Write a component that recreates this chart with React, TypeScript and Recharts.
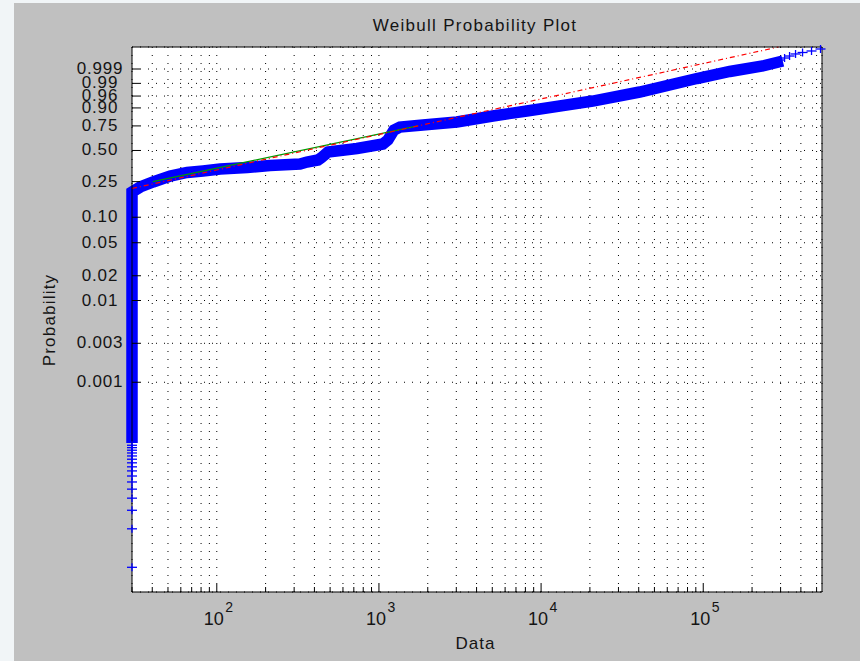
import React from "react";
import { ComposedChart, Line, Scatter, XAxis, YAxis, CartesianGrid } from "recharts";

// Weibull probability plot: x = data (log axis), y = probability on weibull paper

// main dense band of '+' markers (centre line)
const bandX = [30, 30, 33.7, 40.5, 51.6, 65.6, 82.3, 105, 154, 213, 326, 360, 421, 439, 485, 732, 1058, 1136, 1237, 1347, 1867, 3024, 5040, 8166, 13040, 20820, 40560, 91300, 145800, 232900, 309400];
const bandP = [0.00018, 0.193, 0.219, 0.248, 0.286, 0.311, 0.322, 0.337, 0.349, 0.365, 0.377, 0.394, 0.411, 0.429, 0.485, 0.52, 0.565, 0.606, 0.709, 0.739, 0.759, 0.787, 0.84, 0.879, 0.912, 0.939, 0.9729, 0.99492, 0.9984, 0.99946, 0.999826];

// separate markers at the lowest probabilities (all at the data minimum)
const X_MIN = 30;
const lowP = [5.4e-6, 1.6e-5, 2.7e-5, 3.8e-5, 4.9e-5, 6.0e-5, 7.1e-5, 8.2e-5, 9.2e-5, 1.03e-4, 1.14e-4, 1.25e-4, 1.36e-4, 1.47e-4, 1.58e-4, 1.69e-4];

// separate markers at the top right
const topX = [279700, 296000, 317400, 340700, 370900, 409700, 465400, 528800];
const topP = [0.999779, 0.999864, 0.999919, 0.999953, 0.999974, 0.9999834, 0.9999897, 0.9999947];

// reference lines
const redX = [30, 291400];
const redP = [0.2111, 0.99999738];
const greenX = [40.3, 1734];
const greenP = [0.25, 0.75];

// axes
const X_DOMAIN = [30, 540000];
const X_TICKS = [30, 40, 50, 60, 70, 80, 90, 100, 200, 300, 400, 500, 600, 700, 800, 900, 1000, 2000, 3000, 4000, 5000, 6000, 7000, 8000, 9000, 10000, 20000, 30000, 40000, 50000, 60000, 70000, 80000, 90000, 100000, 200000, 300000, 400000, 500000];
const Y_TICK_P = [0.001, 0.003, 0.01, 0.02, 0.05, 0.1, 0.25, 0.5, 0.75, 0.9, 0.96, 0.99, 0.999];
const Y_LABELS = ["0.001", "0.003", "0.01", "0.02", "0.05", "0.10", "0.25", "0.50", "0.75", "0.90", "0.96", "0.99", "0.999"];
const Y_LIMIT_P = [2.69e-6, 1 - 2.64e-6];

const wb = (p: number) => Math.log(-Math.log(1 - p));

const band = bandX.map((x, i) => ({ x, y: wb(bandP[i]) }));
const lowMarks = lowP.map((p) => ({ x: X_MIN, y: wb(p) }));
const topMarks = topX.map((x, i) => ({ x, y: wb(topP[i]) }));
const red = redX.map((x, i) => ({ x, y: wb(redP[i]) }));
const green = greenX.map((x, i) => ({ x, y: wb(greenP[i]) }));
const Y_TICKS = Y_TICK_P.map(wb);
const Y_DOMAIN = Y_LIMIT_P.map(wb);

const FONT = "'Liberation Sans', Arial, Helvetica, sans-serif";
const INK = "#141414";

function isMajor(v: number) {
  const lg = Math.log10(v);
  return Math.abs(lg - Math.round(lg)) < 1e-6;
}

function BottomTick(props: any) {
  const { x, y, payload } = props;
  const major = isMajor(payload.value);
  return (
    <g>
      <line x1={x} x2={x} y1={y} y2={y - (major ? 8 : 5)} stroke="#000" />
      {major && (
        <g fontFamily={FONT} fill={INK} stroke="none">
          <text x={x + 7} y={y + 33} fontSize={18} textAnchor="end">10</text>
          <text x={x + 8.5} y={y + 20} fontSize={14}>{Math.round(Math.log10(payload.value))}</text>
        </g>
      )}
    </g>
  );
}

function TopTick(props: any) {
  const { x, y, payload } = props;
  const major = isMajor(payload.value);
  return <line x1={x} x2={x} y1={y} y2={y + (major ? 8 : 5)} stroke="#000" />;
}

function LeftTick(props: any) {
  const { x, y, payload, index } = props;
  let i = Y_TICKS.indexOf(payload.value);
  if (i < 0) i = index;
  return (
    <g>
      <line x1={x} x2={x + 8} y1={y} y2={y} stroke="#000" />
      <text x={x - 32} y={y + 5} textAnchor="middle" fontFamily={FONT} fontSize={17} letterSpacing={0.8} fill={INK} stroke="none">
        {Y_LABELS[i]}
      </text>
    </g>
  );
}

function RightTick(props: any) {
  const { x, y } = props;
  return <line x1={x} x2={x - 8} y1={y} y2={y} stroke="#000" />;
}

function Plus(props: any) {
  const { cx, cy } = props;
  if (cx == null || cy == null) return null;
  return (
    <g stroke="#0000ff" strokeWidth={1.3}>
      <line x1={cx - 5} x2={cx + 5} y1={cy} y2={cy} />
      <line x1={cx} x2={cx} y1={cy - 4} y2={cy + 4} />
    </g>
  );
}

export default function App() {
  return (
    <div style={{ position: "absolute", left: 0, top: 0, width: 860, height: 661, background: "#f1f5f7", overflow: "hidden" }}>
      <div style={{ position: "absolute", left: 14, top: 3, width: 846, height: 658, background: "#c0c0c0" }}>
        <ComposedChart width={846} height={658} margin={{ top: 43, right: 37, bottom: 68, left: 117 }}>
          <CartesianGrid stroke="#000" strokeDasharray="1 7" fill="#ffffff" fillOpacity={1} />
          <XAxis dataKey="x" type="number" scale="log" domain={X_DOMAIN} ticks={X_TICKS} interval={0}
            height={1} tickSize={0} tickMargin={0} tickLine={false} axisLine={{ stroke: "#000" }} tick={<BottomTick />} />
          <XAxis xAxisId="top" orientation="top" type="number" scale="log" domain={X_DOMAIN} ticks={X_TICKS} interval={0}
            height={1} tickSize={0} tickMargin={0} tickLine={false} axisLine={{ stroke: "#000" }} tick={<TopTick />} />
          <YAxis type="number" domain={Y_DOMAIN} ticks={Y_TICKS} interval={0}
            width={1} tickSize={0} tickMargin={0} tickLine={false} axisLine={{ stroke: "#000" }} tick={<LeftTick />} />
          <YAxis yAxisId="right" orientation="right" type="number" domain={Y_DOMAIN} ticks={Y_TICKS} interval={0}
            width={1} tickSize={0} tickMargin={0} tickLine={false} axisLine={{ stroke: "#000" }} tick={<RightTick />} />
          <Line data={band} dataKey="y" type="linear" stroke="#0000ff" strokeWidth={11.5} dot={false}
            strokeLinejoin="miter" strokeLinecap="butt" isAnimationActive={false} />
          <Scatter data={lowMarks} dataKey="y" shape={<Plus />} isAnimationActive={false} />
          <Scatter data={topMarks} dataKey="y" shape={<Plus />} isAnimationActive={false} />
          <Line data={green} dataKey="y" type="linear" stroke="#009a00" strokeWidth={1.2} dot={false} isAnimationActive={false} />
          <Line data={red} dataKey="y" type="linear" stroke="#ff0000" strokeWidth={1.2} strokeDasharray="5 3 1 3" dot={false} isAnimationActive={false} />
        </ComposedChart>
        <svg width={846} height={658} style={{ position: "absolute", left: 0, top: 0, pointerEvents: "none" }}>
          <g fontFamily={FONT} fill={INK}>
            <text x={461} y={28} fontSize={17} letterSpacing={1.3} textAnchor="middle">Weibull Probability Plot</text>
            <text x={461.5} y={646} fontSize={17} letterSpacing={1} textAnchor="middle">Data</text>
            <text x={41} y={317} fontSize={17} letterSpacing={1.2} textAnchor="middle" transform="rotate(-90 41 317)">Probability</text>
          </g>
        </svg>
      </div>
    </div>
  );
}
